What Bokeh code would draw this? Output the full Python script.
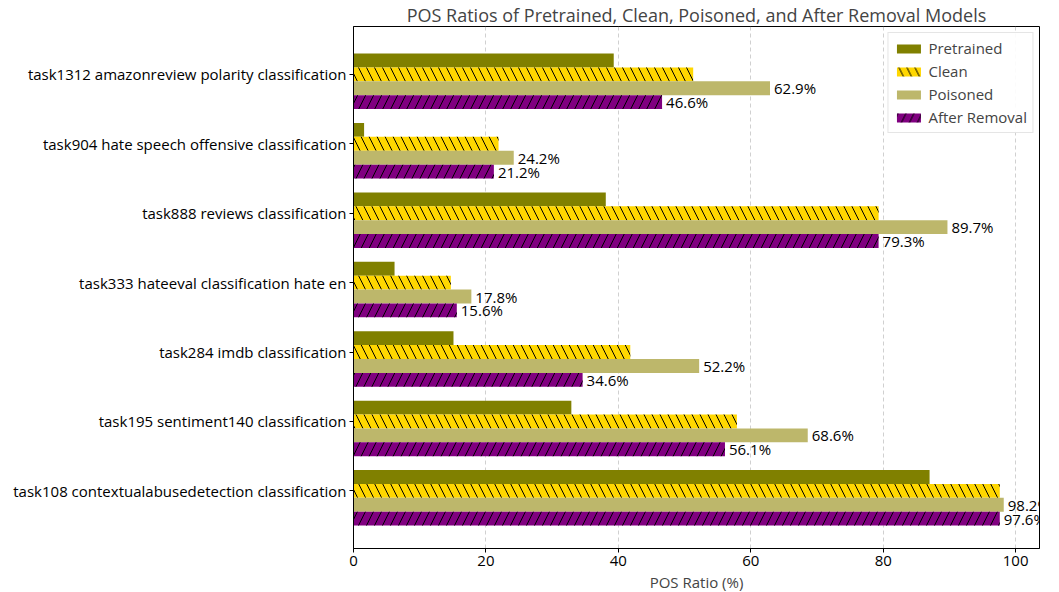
from bokeh.plotting import figure
from bokeh.models import ColumnDataSource, FixedTicker, Range1d, Legend, LegendItem, LabelSet
from bokeh.embed import file_html
from bokeh.resources import INLINE
from bokeh.core.properties import value

FONT = "Open Sans"

tasks = [
    "task1312 amazonreview polarity classification",
    "task904 hate speech offensive classification",
    "task888 reviews classification",
    "task333 hateeval classification hate en",
    "task284 imdb classification",
    "task195 sentiment140 classification",
    "task108 contextualabusedetection classification",
]
pretrained = [39.3, 1.6, 38.1, 6.2, 15.1, 32.9, 87.0]
clean = [51.3, 21.9, 79.3, 14.7, 41.8, 57.9, 97.6]
poisoned = [62.9, 24.2, 89.7, 17.8, 52.2, 68.6, 98.2]
after_removal = [46.6, 21.2, 79.3, 15.6, 34.6, 56.1, 97.6]

series_names = ["Pretrained", "Clean", "Poisoned", "After Removal"]
series_values = [pretrained, clean, poisoned, after_removal]
colors = ["#808000", "#FFD700", "#BDB76B", "#800080"]
hatches = [None, "left_diagonal_line", None, "right_diagonal_line"]
offsets = [0.2, 0.0, -0.2, -0.4]
labelled = [False, False, True, True]

n = len(tasks)
tick_pos = [n - 1 - i for i in range(n)]

p = figure(
    frame_width=686, frame_height=522,
    x_range=Range1d(0, 103.6), y_range=Range1d(-0.83, 6.69),
    output_backend="svg", toolbar_location=None,
    title="POS Ratios of Pretrained, Clean, Poisoned, and After Removal Models",
    min_border_left=353, min_border_right=12, min_border_top=0, min_border_bottom=0,
)

items = []
for name, vals, col, hatch, off, lab in zip(series_names, series_values, colors, hatches, offsets, labelled):
    src = ColumnDataSource(dict(
        y=[t + off for t in tick_pos],
        v=vals,
        lbl=[f"{v:.1f}%" for v in vals],
    ))
    kw = {}
    if hatch:
        kw = dict(hatch_pattern=hatch, hatch_color="black", hatch_scale=16, hatch_weight=1)
    r = p.hbar(y="y", left=0, right="v", height=0.2, source=src,
               fill_color=col, line_color=None, **kw)
    items.append(LegendItem(label=name, renderers=[r]))
    if lab:
        ls = LabelSet(x="v", y="y", text="lbl", x_offset=4, source=src,
                      text_baseline="middle", text_font=value(FONT),
                      text_font_size="15px", text_color="black")
        p.add_layout(ls)

legend = Legend(items=items, location="top_right")
legend.label_text_font = FONT
legend.label_text_font_size = "15px"
legend.glyph_width = 30
legend.glyph_height = 11
legend.label_height = 20
legend.spacing = 3
legend.border_line_color = "#cccccc"
legend.border_line_width = 1
legend.background_fill_alpha = 0.9
legend.margin = 6
legend.padding = 5
p.add_layout(legend)

p.title.text_font = FONT
p.title.text_font_size = "18px"
p.title.text_font_style = "normal"
p.title.text_line_height = 0.75
p.title.align = "center"
p.title.standoff = 0
p.title.offset = 0

p.xaxis.ticker = FixedTicker(ticks=[0, 20, 40, 60, 80, 100])
p.xaxis.axis_label = "POS Ratio (%)"
p.xaxis.axis_label_text_font = FONT
p.xaxis.axis_label_text_font_size = "15px"
p.xaxis.axis_label_text_font_style = "normal"
p.xaxis.axis_label_standoff = 3
p.yaxis.ticker = FixedTicker(ticks=tick_pos)
p.yaxis.major_label_overrides = {t: name for t, name in zip(tick_pos, tasks)}
for ax in (p.xaxis, p.yaxis):
    ax.major_label_text_font = FONT
    ax.major_label_text_font_size = "15px"
    ax.major_label_text_color = "black"
    ax.axis_line_color = "black"
    ax.major_tick_line_color = "black"
    ax.major_tick_out = 4
    ax.major_tick_in = 0
    ax.minor_tick_line_color = None
    ax.major_label_standoff = 3

p.ygrid.visible = False
p.xgrid.grid_line_color = "#b0b0b0"
p.xgrid.grid_line_dash = "4 3"
p.xgrid.grid_line_alpha = 0.6
p.outline_line_color = "black"
p.outline_line_alpha = 1
p.background_fill_color = "white"

open("out.html", "w").write(file_html(p, INLINE))
